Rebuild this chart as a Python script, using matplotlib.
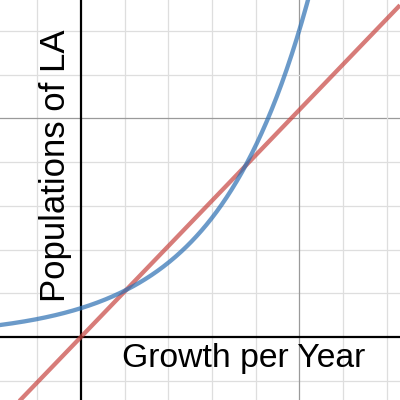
import numpy as np
import matplotlib.pyplot as plt

# ── Values (grid unit = one minor square) ────────────────────────────────────
x_range = [-1.85, 7.30]
y_range = [-1.44, 7.71]
line_slope = 1.04          # red line through the origin
exp_start = 0.66           # blue curve value at x = 0
exp_growth = 1.605         # blue curve growth factor per unit
x_label = 'Growth per Year'
y_label = 'Populations of LA'

BLUE = '#2d70b3'
RED = '#c74440'

fig = plt.figure(figsize=(4, 4), dpi=100)
ax = fig.add_axes([0, 0, 1, 1])
ax.set_xlim(x_range)
ax.set_ylim(y_range)

# grid: minor every unit, major every 5
for v in np.arange(-1, 8):
    major = v % 5 == 0
    if v != 0:
        ax.axvline(v, color='#9a9a9a' if major else '#dedede', lw=0.9, zorder=0)
        ax.axhline(v, color='#9a9a9a' if major else '#dedede', lw=0.9, zorder=0)
ax.axvline(0, color='black', lw=1.6, zorder=1)
ax.axhline(0, color='black', lw=1.6, zorder=1)

xs = np.linspace(x_range[0], x_range[1], 400)
ax.plot(xs, line_slope * xs, color=RED, lw=3.1, alpha=0.7, solid_capstyle='butt', zorder=3)
ax.plot(xs, exp_start * exp_growth ** xs, color=BLUE, lw=3.1, alpha=0.7, zorder=3)

ax.text(0.94, -0.68, x_label, fontsize=24.3, family='Liberation Sans',
        ha='left', va='baseline', zorder=4)
ax.text(-0.37, 0.80, y_label, fontsize=25, family='Liberation Sans', rotation=90,
        rotation_mode='anchor', ha='left', va='baseline', zorder=4)

ax.set_axis_off()
fig.savefig('out.png', dpi=100)
